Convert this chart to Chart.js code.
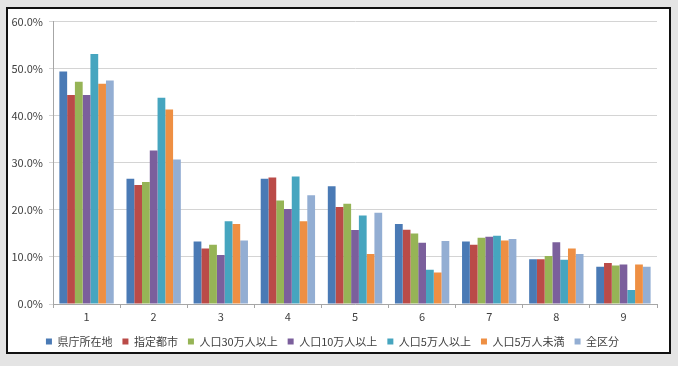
<!DOCTYPE html>
<html>
<head>
<meta charset="utf-8">
<script src="https://cdn.jsdelivr.net/npm/chart.js@4"></script>
<style>
    html, body { margin: 0; padding: 0; background: #e4e4e4; }
    #frame {
        position: absolute; left: 6px; top: 7px;
        width: 665px; height: 347px;
        box-sizing: border-box;
        border: 2px solid #111;
        background: #fff;
    }
    #wrap { position: relative; width: 661px; height: 343px; }
</style>
</head>
<body>
<div id="frame"><div id="wrap"><canvas id="chart"></canvas></div></div>
<script>
// categories and series (percent)
const labels = ['1', '2', '3', '4', '5', '6', '7', '8', '9'];
const seriesNames = ['県庁所在地', '指定都市', '人口30万人以上', '人口10万人以上', '人口5万人以上', '人口5万人未満', '全区分'];
const colors = ['#4A7AB5', '#BA4B48', '#96B456', '#7B5F9C', '#46A5BF', '#EE8F43', '#93AED3'];

const kenchou   = [49.4, 26.6, 13.3, 26.6, 25.0, 17.0, 13.3, 9.5, 7.9];
const shitei    = [44.4, 25.3, 11.8, 26.9, 20.6, 15.8, 12.6, 9.5, 8.7];
const pop30man  = [47.2, 25.9, 12.6, 22.0, 21.3, 15.0, 14.1, 10.2, 8.2];
const pop10man  = [44.4, 32.6, 10.4, 20.2, 15.7, 13.0, 14.3, 13.1, 8.4];
const pop5man   = [53.1, 43.8, 17.6, 27.1, 18.8, 7.3, 14.5, 9.4, 3.0];
const popUnder5 = [46.8, 41.3, 17.0, 17.6, 10.6, 6.7, 13.5, 11.8, 8.4];
const zenkubun  = [47.5, 30.7, 13.5, 23.1, 19.4, 13.4, 13.8, 10.6, 7.9];

const values = [kenchou, shitei, pop30man, pop10man, pop5man, popUnder5, zenkubun];

const datasets = seriesNames.map((name, i) => ({
    label: name,
    data: values[i],
    backgroundColor: colors[i],
    borderWidth: 0,
    categoryPercentage: 0.81,
    barPercentage: 1.0
}));

const font = { family: "'Noto Sans CJK JP', 'Noto Sans', sans-serif", size: 11 };

new Chart(document.getElementById('chart'), {
    type: 'bar',
    data: { labels: labels, datasets: datasets },
    options: {
        responsive: true,
        maintainAspectRatio: false,
        animation: false,
        layout: { padding: { top: 6, right: 12, left: 0, bottom: -5 } },
        plugins: {
            tooltip: { enabled: false },
            legend: {
                position: 'bottom',
                labels: {
                    font: font,
                    color: '#404040',
                    boxWidth: 6,
                    boxHeight: 6,
                    padding: 10
                }
            }
        },
        scales: {
            x: {
                grid: { offset: true, drawOnChartArea: false, drawTicks: true, tickLength: 4, color: '#a6a6a6' },
                border: { color: '#a6a6a6' },
                ticks: { font: font, color: '#404040', padding: 2 },
                afterFit: s => { s.height = 22; }
            },
            y: {
                min: 0,
                max: 60,
                grid: { color: '#d4d4d4', tickLength: 4, lineWidth: 1 },
                border: { color: '#a6a6a6' },
                ticks: {
                    stepSize: 10,
                    font: font,
                    color: '#404040',
                    padding: 6,
                    callback: v => v.toFixed(1) + '%'
                },
                afterFit: s => { s.width = 45; }
            }
        }
    }
});
</script>
</body>
</html>
